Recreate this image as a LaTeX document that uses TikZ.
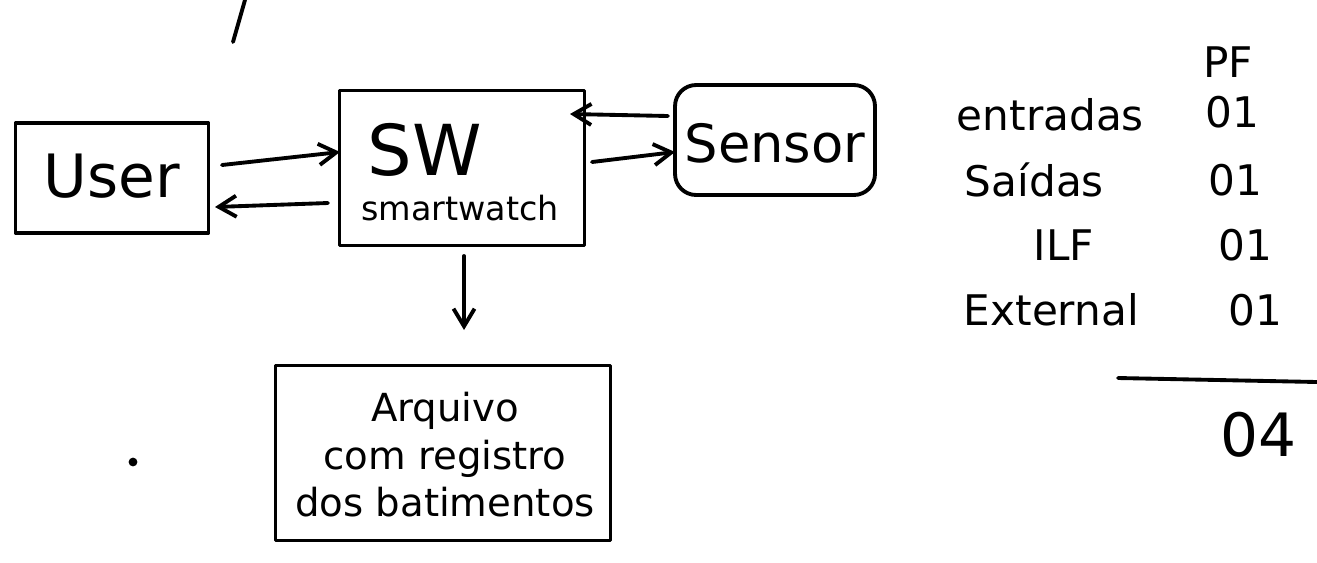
\documentclass[tikz,border=0pt]{standalone}
\usepackage{fontspec}
\setmainfont{DejaVu Sans}
\usetikzlibrary{arrows.meta}
\begin{document}
\begin{tikzpicture}[x=0.02cm,y=-0.02cm,
  ink/.style={draw=black,line width=2.2pt,line cap=round,line join=round},
  conn/.style={ink,-{Straight Barb[length=10pt,width=12pt]}},
  big/.style={font=\fontsize{34}{38}\selectfont},
  mid/.style={font=\fontsize{24}{28}\selectfont},
  arqf/.style={font=\fontsize{22}{27}\selectfont},
  small/.style={font=\fontsize{19}{22}\selectfont}]
\useasboundingbox (0,0) rectangle (1317,562);
% stroke at the top
\coordinate (sa) at (245,0);
\coordinate (sb) at (233,42);
\draw[ink] (sa) -- (sb);
% boxes
\node[ink,minimum width=3.86cm,minimum height=2.2cm] (user) at (112,178) {};
\node[big] (usert) at (112,176) {User};
\node[ink,minimum width=4.9cm,minimum height=3.1cm] (sw) at (462,168) {};
\node[font=\fontsize{40}{44}\selectfont] (swt) at (425,150) {SW};
\node[small] (swsub) at (460,208) {smartwatch};
\node[ink,rounded corners=12pt,minimum width=4cm,minimum height=2.2cm] (sensor) at (775,140) {};
\node[font=\fontsize{30}{34}\selectfont] (sensort) at (775,143) {Sensor};
\node[ink,minimum width=6.7cm,minimum height=3.5cm] (arq) at (443,453) {};
\node[arqf,align=center] (arqt) at (445,455) {Arquivo\\com registro\\dos batimentos};
% connector end points
\coordinate (u1) at (222,165);
\coordinate (s1) at (340,152);
\coordinate (s2) at (328,203);
\coordinate (u2) at (215,207);
\coordinate (se1) at (668,116);
\coordinate (s3) at (570,114);
\coordinate (s4) at (592,162);
\coordinate (se2) at (675,152);
\coordinate (d1) at (464,256);
\coordinate (d2) at (464,330);
% connectors
\draw[conn] (u1) -- (s1);
\draw[conn] (s2) -- (u2);
\draw[conn] (se1) -- (s3);
\draw[conn] (s4) -- (se2);
\draw[conn] (d1) -- (d2);
% dot
\fill (133,462) circle (2.5pt) coordinate (dot);
% table
\node[mid] (pf) at (1228,62) {PF};
\node[mid,anchor=east] (r1) at (1150,115) {entradas};
\node[mid] (v1) at (1232,112) {01};
\node[mid,anchor=east] (r2) at (1110,180) {Saídas};
\node[mid] (v2) at (1235,180) {01};
\node[mid,anchor=east] (r3) at (1100,245) {ILF};
\node[mid] (v3) at (1245,245) {01};
\node[mid,anchor=east] (r4) at (1145,310) {External};
\node[mid] (v4) at (1255,310) {01};
\coordinate (la) at (1118,378);
\coordinate (lb) at (1317,382);
\draw[ink] (la) -- (lb);
\node[big] (tot) at (1258,435) {04};
\end{tikzpicture}
\end{document}
